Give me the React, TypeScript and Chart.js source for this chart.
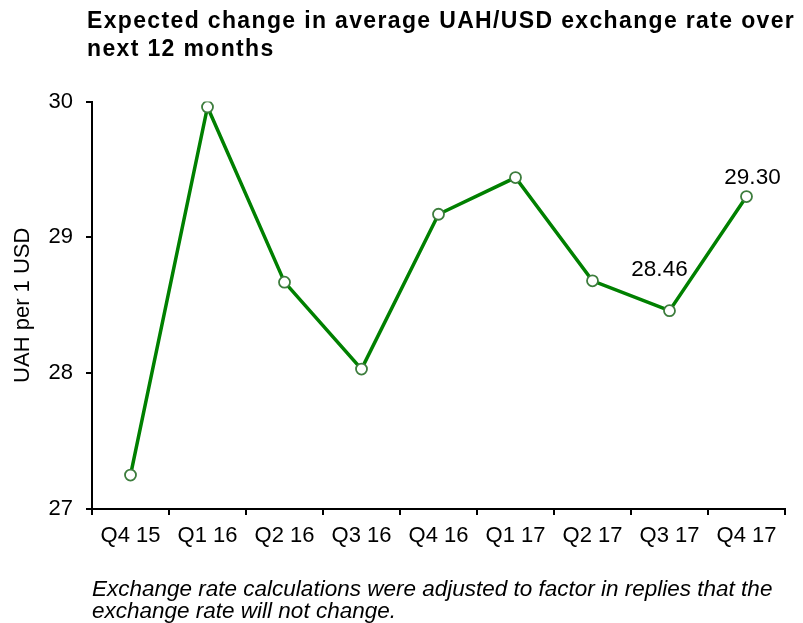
import React, { useEffect, useRef } from "react";
import { Chart, registerables } from "chart.js";

Chart.register(...registerables);

const categories = ["Q4 15", "Q1 16", "Q2 16", "Q3 16", "Q4 16", "Q1 17", "Q2 17", "Q3 17", "Q4 17"];
const rates = [27.25, 29.96, 28.67, 28.03, 29.17, 29.44, 28.68, 28.46, 29.3];
const yMin = 27;
const yMax = 30;
const yStep = 1;
const labelledIndices = [7, 8];
const titleLines = ["Expected change in average UAH/USD exchange rate over", "next 12 months"];
const footnoteLines = [
  "Exchange rate calculations were adjusted to factor in replies that the",
  "exchange rate will not change.",
];
const yAxisTitle = "UAH per 1 USD";

const FONT = "'Liberation Sans', Arial, Helvetica, sans-serif";
const LINE_GREEN = "#008000";
const MARKER_EDGE = "#3d7d3d";

const textPlugin = {
  id: "textPlugin",
  afterDatasetsDraw(chart: any) {
    const ctx = chart.ctx;
    const meta = chart.getDatasetMeta(0);
    ctx.save();
    ctx.fillStyle = "#000";
    ctx.font = `22.5px ${FONT}`;
    ctx.textAlign = "center";
    ctx.textBaseline = "middle";
    const offsets: Record<number, [number, number]> = { 7: [-10, -41], 8: [6, -19] };
    labelledIndices.forEach((i) => {
      const el = meta.data[i];
      const [dx, dy] = offsets[i];
      ctx.fillText(rates[i].toFixed(2), el.x + dx, el.y + dy);
    });
    ctx.restore();
  },
  afterDraw(chart: any) {
    const ctx = chart.ctx;
    ctx.save();
    ctx.fillStyle = "#000";
    ctx.textAlign = "left";
    ctx.textBaseline = "alphabetic";
    ctx.font = `bold 23px ${FONT}`;
    (ctx as any).letterSpacing = "1.35px";
    ctx.fillText(titleLines[0], 87, 28);
    ctx.fillText(titleLines[1], 87, 56);
    ctx.font = `italic 22.5px ${FONT}`;
    (ctx as any).letterSpacing = "0px";
    ctx.fillText(footnoteLines[0], 92, 596);
    ctx.fillText(footnoteLines[1], 92, 618);
    ctx.restore();
  },
};

export default function App() {
  const canvasRef = useRef<HTMLCanvasElement>(null);

  useEffect(() => {
    const canvas = canvasRef.current;
    if (!canvas) return;
    const chart = new Chart(canvas, {
      type: "line",
      data: {
        labels: categories,
        datasets: [
          {
            data: rates,
            borderColor: LINE_GREEN,
            borderWidth: 3.5,
            tension: 0,
            pointRadius: 5.5,
            pointBorderWidth: 1.8,
            pointBackgroundColor: "#ffffff",
            pointBorderColor: MARKER_EDGE,
            fill: false,
          },
        ],
      },
      options: {
        responsive: false,
        animation: false,
        devicePixelRatio: 1,
        layout: { padding: { top: 101.5, right: 18, left: 0, bottom: 0 } },
        plugins: {
          legend: { display: false },
          tooltip: { enabled: false },
          title: { display: false },
        },
        scales: {
          x: {
            type: "category",
            offset: true,
            afterFit: (scale: any) => {
              scale.height = 114;
            },
            grid: {
              display: true,
              offset: true,
              drawOnChartArea: false,
              drawTicks: true,
              tickLength: 6,
              color: "#000",
              lineWidth: 2,
            },
            border: { display: true, color: "#000", width: 2 },
            ticks: {
              color: "#000",
              font: { family: FONT, size: 22 },
              padding: 8,
              maxRotation: 0,
              autoSkip: false,
            },
          },
          y: {
            min: yMin,
            max: yMax,
            afterFit: (scale: any) => {
              scale.width = 92;
            },
            grid: {
              display: true,
              drawOnChartArea: false,
              drawTicks: true,
              tickLength: 6,
              color: "#000",
              lineWidth: 2,
            },
            border: { display: true, color: "#000", width: 2 },
            ticks: {
              stepSize: yStep,
              color: "#000",
              font: { family: FONT, size: 22 },
              padding: 13,
            },
            title: {
              display: true,
              text: yAxisTitle,
              color: "#000",
              font: { family: FONT, size: 22 },
              padding: { top: 10, bottom: 0 },
            },
          },
        },
      },
      plugins: [textPlugin],
    });
    return () => chart.destroy();
  }, []);

  return (
    <div style={{ position: "absolute", left: 0, top: 0, width: 803, height: 623, background: "#fff" }}>
      <canvas ref={canvasRef} width={803} height={623} style={{ display: "block", width: 803, height: 623 }} />
    </div>
  );
}
